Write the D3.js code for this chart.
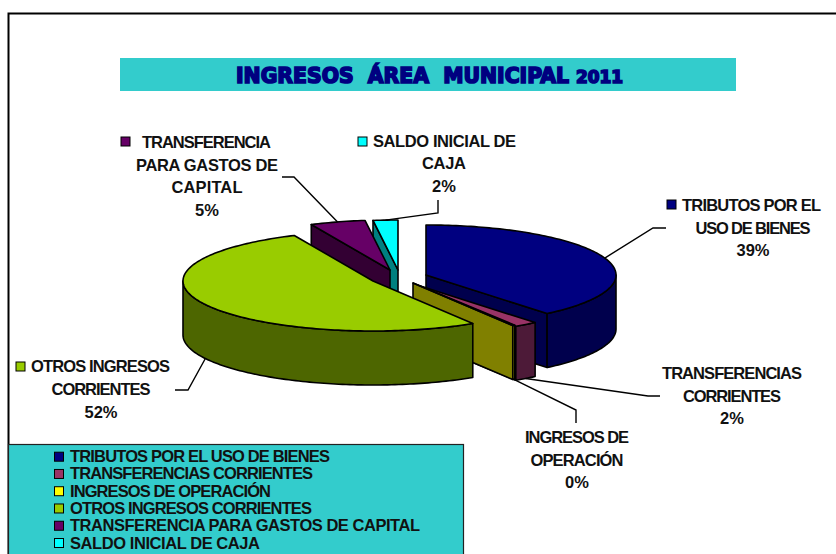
<!DOCTYPE html>
<html>
<head>
<meta charset="utf-8">
<script src="https://cdn.jsdelivr.net/npm/d3@7/dist/d3.min.js"></script>
<style>
html,body{margin:0;padding:0;background:#fff;overflow:hidden}
svg{display:block}
text{font-family:"Liberation Sans",Arial,sans-serif;font-weight:bold;fill:#111;white-space:pre}
</style>
</head>
<body>
<div id="chart"></div>
<script>
// ---- data ----
const categories = ["TRIBUTOS POR EL USO DE BIENES","TRANSFERENCIAS CORRIENTES","INGRESOS DE OPERACIÓN","OTROS INGRESOS CORRIENTES","TRANSFERENCIA PARA GASTOS DE CAPITAL","SALDO INICIAL DE CAJA"];
const shares = [39, 2, 0.2, 52, 4.7, 2.1];
const labelLines = [
  ["TRIBUTOS POR EL","USO DE BIENES"],
  ["TRANSFERENCIAS","CORRIENTES"],
  ["INGRESOS DE","OPERACIÓN"],
  ["OTROS INGRESOS","CORRIENTES"],
  ["TRANSFERENCIA","PARA GASTOS DE","CAPITAL"],
  ["SALDO INICIAL DE","CAJA"]
];
const titleText = "INGRESOS  ÁREA  MUNICIPAL";
const titleYear = "2011";

// ---- styles ----
const topColors  = ["#000080","#993366","#ffff00","#99cc00","#660066","#00ffff"];
const wallColors = ["#00004d","#4d1a38","#808000","#4d6600","#330033","#008080"];
const teal = "#33cccc";

// ---- layout ----
const W = 836, H = 554, rx = 190, ry = 50, depth = 54, fontSize = 16.5;
const apexes = [[426,275],[414,284],[413,283],[373,281],[390,270],[398,270]];
const drawOrder = [5,4,0,1,2,3];
const leaderTails = [
  [[653,228],[666,228]],
  [[648,396],[660,396]],
  [[576,410],[576,423]],
  [[188,390],[175,390]],
  [[294,177],[282,177]],
  [[438,213],[438,200]]
];
const labelPos = [
  {x:682,y:211,cx:753,step:22.5,marker:[667,200]},
  {x:732,y:379,cx:732,step:22.5},
  {x:577,y:443,cx:577,step:22.5},
  {x:31, y:372,cx:101,step:22.8,marker:[16,362]},
  {x:142,y:148,cx:207,step:22.6,marker:[121,137]},
  {x:373,y:147,cx:444,step:22.3,marker:[358,137]}
];
// rendered widths of the text lines
const labelWidths = [[139,115],[140,98],[104,93],[139,99],[129,142,71],[143,44]];
const legendWidths = [260,243,201,242,350,190];

const svg = d3.select("#chart").append("svg").attr("width",W).attr("height",H);
svg.append("rect").attr("width",W).attr("height",H).attr("fill","#fff");

// chart frame (open at right and bottom, as cropped in the reference)
svg.append("path").attr("d",`M8.5,${H}V13.5H${W}`).attr("fill","none").attr("stroke","#000").attr("stroke-width",2);

// title band
svg.append("rect").attr("x",120).attr("y",58).attr("width",616).attr("height",33).attr("fill",teal);
const titleStyle = s => s.style("font-family","'DejaVu Sans'").style("font-weight","bold")
  .style("fill","#000080").style("stroke","#000080").style("stroke-width","1.7px");
svg.append("text").attr("x",236).attr("y",83).attr("font-size",21)
  .attr("textLength",333).attr("lengthAdjust","spacingAndGlyphs").text(titleText).call(titleStyle);
svg.append("text").attr("x",576).attr("y",83).attr("font-size",17)
  .attr("textLength",47).attr("lengthAdjust","spacingAndGlyphs").text(titleYear).call(titleStyle);

// pie
const pie = d3.pie().sort(null).startAngle(0).endAngle(2*Math.PI)(shares);
const sx = d3.scaleLinear().domain([-1,1]).range([-rx,rx]);
const sy = d3.scaleLinear().domain([-1,1]).range([-ry,ry]);
const pt = (i,a,z=0) => [apexes[i][0]+sx(Math.sin(a)), apexes[i][1]+sy(-Math.cos(a))+z];
const arcPts = (i,a0,a1,z=0) => {
  const n = Math.max(2,Math.ceil((a1-a0)/0.02));
  return d3.range(n+1).map(k => pt(i,a0+(a1-a0)*k/n,z));
};
const line = d3.line();
const closed = pts => line(pts)+"Z";
const shape = (g,d,fill) => g.append("path").attr("d",d).attr("fill",fill)
  .attr("stroke","#000").attr("stroke-width",1.6).attr("stroke-linejoin","round");

const pieG = svg.append("g");
drawOrder.forEach(i => {
  const {startAngle:a0,endAngle:a1} = pie[i];
  const g = pieG.append("g");
  const A = apexes[i];
  // cut walls that face the viewer
  [[a0,a0>Math.PI],[a1,a1<Math.PI]].forEach(([a,show]) => {
    if(!show) return;
    const p = pt(i,a);
    shape(g,closed([A,p,[p[0],p[1]+depth],[A[0],A[1]+depth]]),wallColors[i]);
  });
  // outer rim, front half only
  const f0 = Math.max(a0,Math.PI/2), f1 = Math.min(a1,3*Math.PI/2);
  if(f1>f0){
    shape(g,closed(arcPts(i,f0,f1).concat(arcPts(i,f0,f1,depth).reverse())),wallColors[i]);
  }
  // top face
  shape(g,closed([A].concat(arcPts(i,a0,a1))),topColors[i]);
});

// leader lines
pie.forEach((d,i) => {
  const mid = (d.startAngle+d.endAngle)/2;
  const front = Math.cos(mid)<0;
  const start = pt(i,mid,front?depth:0);
  svg.append("path").attr("d",line([start].concat(leaderTails[i])))
    .attr("fill","none").attr("stroke","#000").attr("stroke-width",1.4);
});

// data labels
const fmt = d3.format(".0f");
const total = d3.sum(shares);
const lab = svg.append("g").attr("font-size",fontSize);
labelPos.forEach((p,i) => {
  const lines = labelLines[i].concat([fmt(shares[i]/total*100)+"%"]);
  lines.forEach((t,k) => {
    const hasMarker = p.marker && k===0;
    const el = lab.append("text").attr("x",hasMarker?p.x:p.cx).attr("y",p.y+k*p.step)
      .attr("text-anchor",hasMarker?"start":"middle").text(t);
    if(labelWidths[i][k]) el.attr("textLength",labelWidths[i][k]).attr("lengthAdjust","spacing");
  });
  if(p.marker){
    svg.append("rect").attr("x",p.marker[0]).attr("y",p.marker[1]).attr("width",9).attr("height",9)
      .attr("fill",topColors[i]).attr("stroke","#000").attr("stroke-width",1);
  }
});

// legend
svg.append("rect").attr("x",8.5).attr("y",444.5).attr("width",455).attr("height",120)
  .attr("fill",teal).attr("stroke","#222").attr("stroke-width",1.2);
const ly = d3.scalePoint().domain(categories).range([456.7,543]);
const lg = svg.append("g").attr("font-size",fontSize);
categories.forEach((c,i) => {
  lg.append("rect").attr("x",54.5).attr("y",ly(c)-4.5).attr("width",9).attr("height",9)
    .attr("fill",topColors[i]).attr("stroke","#000").attr("stroke-width",1);
  lg.append("text").attr("x",70).attr("y",ly(c)+5.5)
    .attr("textLength",legendWidths[i]).attr("lengthAdjust","spacing").text(c);
});
</script>
</body>
</html>
